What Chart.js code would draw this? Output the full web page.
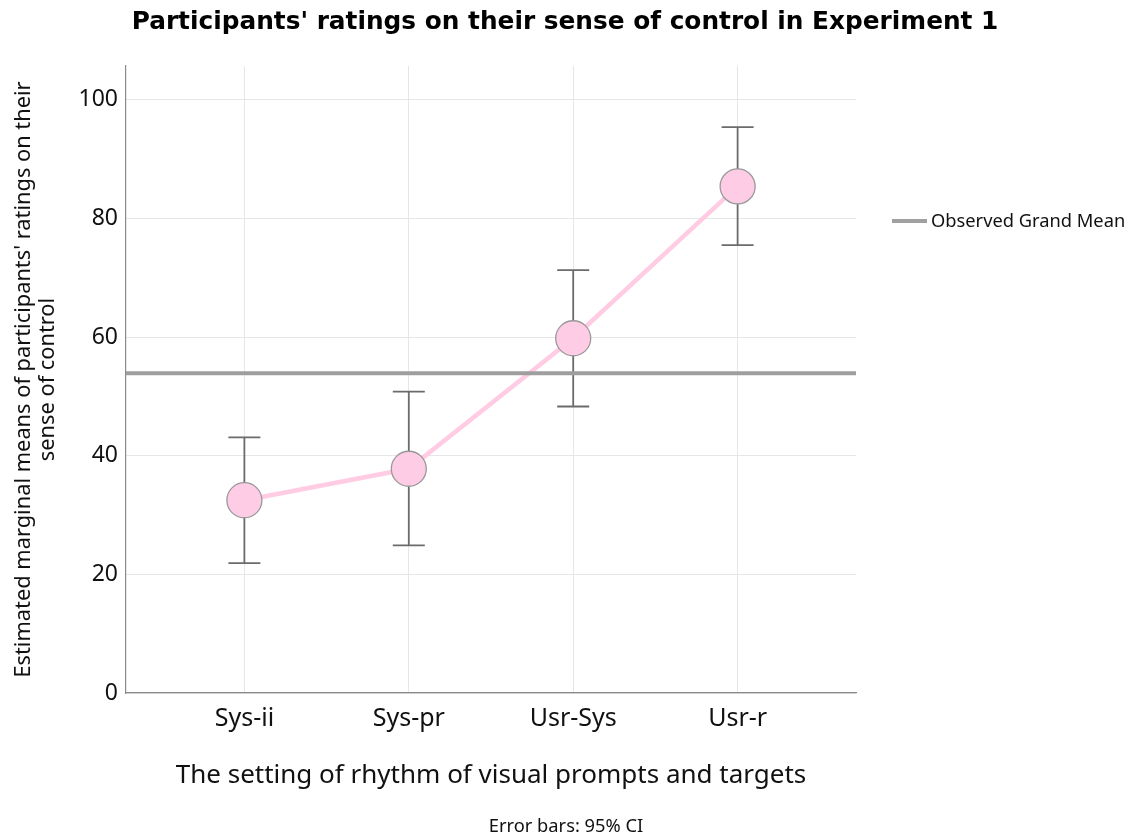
<!DOCTYPE html>
<html>
<head>
<meta charset="utf-8">
<script src="https://cdn.jsdelivr.net/npm/chart.js@4"></script>
<style>
html,body{margin:0;padding:0;background:#fff;}
#wrap{width:1130px;height:839px;position:relative;}
</style>
</head>
<body>
<div id="wrap"><canvas id="c" width="1130" height="839"></canvas></div>
<script>
const categories = ["Sys-ii", "Sys-pr", "Usr-Sys", "Usr-r"];
const means = [32.5, 37.8, 59.8, 85.4];
const ciUpper = [43.1, 50.8, 71.3, 95.4];
const ciLower = [21.9, 24.9, 48.3, 75.5];
const grandMean = 53.9;
const yTicks = [0, 20, 40, 60, 80, 100];
const yMax = 105.7;
const xMin = -0.72, xMax = 3.72;

const FONT = "'Noto Sans', sans-serif";
const TITLE_FONT = "'DejaVu Sans', sans-serif";

const errorBars = {
  id: 'errorBars',
  beforeDatasetsDraw(chart) {
    const ctx = chart.ctx, xs = chart.scales.x, ys = chart.scales.y;
    ctx.save();
    ctx.strokeStyle = '#6b6b6b';
    ctx.lineWidth = 1.8;
    for (let i = 0; i < categories.length; i++) {
      const x = xs.getPixelForValue(i);
      const yu = ys.getPixelForValue(ciUpper[i]);
      const yl = ys.getPixelForValue(ciLower[i]);
      ctx.beginPath();
      ctx.moveTo(x, yu); ctx.lineTo(x, yl);
      ctx.moveTo(x - 16, yu); ctx.lineTo(x + 16, yu);
      ctx.moveTo(x - 16, yl); ctx.lineTo(x + 16, yl);
      ctx.stroke();
    }
    ctx.restore();
  },
  afterDraw(chart) {
    const ctx = chart.ctx;
    ctx.save();
    // title
    ctx.fillStyle = '#000';
    ctx.font = "bold 24.8px " + TITLE_FONT;
    ctx.textAlign = 'center';
    ctx.textBaseline = 'middle';
    ctx.fillText("Participants' ratings on their sense of control in Experiment 1", 565, 23);
    // legend
    ctx.strokeStyle = '#a0a0a0';
    ctx.lineWidth = 4;
    ctx.beginPath();
    ctx.moveTo(892, 221); ctx.lineTo(927, 221);
    ctx.stroke();
    ctx.fillStyle = '#111';
    ctx.font = "18.3px " + FONT;
    ctx.textBaseline = 'middle';
    ctx.textAlign = 'left';
    ctx.fillText('Observed Grand Mean', 931, 222);
    // footnote
    ctx.font = "18.3px " + FONT;
    ctx.textAlign = 'center';
    ctx.fillText('Error bars: 95% CI', 566, 827);
    ctx.restore();
  }
};

new Chart(document.getElementById('c'), {
  type: 'line',
  data: {
    datasets: [
      {
        label: 'Observed Grand Mean',
        data: [{x: xMin, y: grandMean}, {x: xMax, y: grandMean}],
        borderColor: '#9e9e9e',
        borderWidth: 4,
        pointRadius: 0,
        order: 0
      },
      {
        label: 'Means',
        data: categories.map((c, i) => ({x: i, y: means[i]})),
        borderColor: '#ffcce4',
        borderWidth: 4.5,
        backgroundColor: '#ffcce4',
        pointRadius: 17.5,
        pointBackgroundColor: '#ffcce6',
        pointBorderColor: '#999999',
        pointBorderWidth: 1.3,
        order: 1
      }
    ]
  },
  options: {
    responsive: false,
    animation: false,
    devicePixelRatio: 1,
    layout: { padding: { left: 0, right: 274, top: 66, bottom: 0 } },
    plugins: {
      legend: { display: false },
      tooltip: { enabled: false },
      title: { display: false }
    },
    scales: {
      x: {
        type: 'linear',
        min: xMin, max: xMax,
        afterBuildTicks(s) { s.ticks = categories.map((c, i) => ({value: i})); },
        afterFit(s) { s.height = 146; },
        grid: { color: '#e6e6e6', lineWidth: 1, drawTicks: false },
        border: { color: '#8a8a8a', width: 1.2 },
        ticks: {
          padding: 11,
          color: '#111',
          font: { family: FONT, size: 25 },
          callback: (v) => categories[v]
        },
        title: {
          display: true,
          text: 'The setting of rhythm of visual prompts and targets',
          color: '#111',
          font: { family: FONT, size: 26 },
          padding: { top: 0, bottom: 48 }
        }
      },
      y: {
        min: 0, max: yMax,
        afterBuildTicks(s) { s.ticks = yTicks.map(v => ({value: v})); },
        afterFit(s) { s.width = 126; },
        grid: { color: '#e6e6e6', lineWidth: 1, drawTicks: false },
        border: { color: '#8a8a8a', width: 1.2 },
        ticks: {
          padding: 8,
          color: '#111',
          font: { family: FONT, size: 23 }
        },
        title: {
          display: true,
          text: ["Estimated marginal means of participants' ratings on their", "sense of control"],
          color: '#111',
          font: { family: FONT, size: 21.8, lineHeight: 1.13 },
          padding: { top: 11, bottom: 0 }
        }
      }
    }
  },
  plugins: [errorBars]
});
</script>
</body>
</html>
